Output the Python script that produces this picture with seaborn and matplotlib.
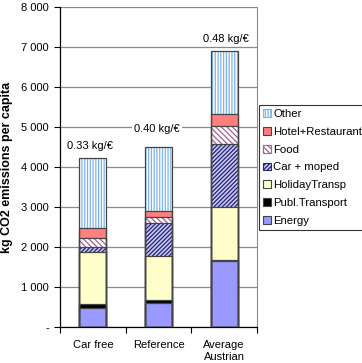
import numpy as np
import pandas as pd
import matplotlib
matplotlib.use("Agg")
import matplotlib.pyplot as plt
from matplotlib.patches import Patch
from matplotlib.ticker import FuncFormatter
import seaborn as sns

# data (kg CO2 per capita)
scenarios = ["Car free", "Reference", "Average\nAustrian"]
energy = [467, 600, 1642]
publ_transport = [100, 83, 41]
holiday_transp = [1316, 1100, 1317]
car_moped = [117, 817, 1583]
food = [233, 150, 434]
hotel_restaurant = [234, 150, 300]
other = [1750, 1600, 1575]
intensity_labels = ["0.33 kg/€", "0.40 kg/€", "0.48 kg/€"]

components = ["Energy", "Publ.Transport", "HolidayTransp", "Car + moped",
              "Food", "Hotel+Restaurant", "Other"]
values = [energy, publ_transport, holiday_transp, car_moped,
          food, hotel_restaurant, other]

# style per component: facecolor, hatch, hatch colour
styles = {
    "Energy": ("#9999ff", None, "#9999ff"),
    "Publ.Transport": ("#000000", None, "#000000"),
    "HolidayTransp": ("#ffffcc", None, "#ffffcc"),
    "Car + moped": ("#c8c8f0", "////////", "#222277"),
    "Food": ("#ffffff", "\\\\\\\\\\\\", "#a0609a"),
    "Hotel+Restaurant": ("#ff7f7f", None, "#ff7f7f"),
    "Other": ("#ffffff", "||||||", "#7fb4e6"),
}

plt.rcParams["font.family"] = ["Liberation Sans", "DejaVu Sans"]
plt.rcParams["hatch.linewidth"] = 0.9

fig = plt.figure(figsize=(3.62, 3.63), dpi=100)
ax = fig.add_axes([0.166, 0.099, 0.544, 0.882])

cum = np.cumsum(np.array(values), axis=0)
df = pd.DataFrame(cum.T, columns=components)
df["scenario"] = scenarios

# draw cumulative bars from top down so lower parts cover upper ones
for comp in components[::-1]:
    fc, hatch, hc = styles[comp]
    sns.barplot(data=df, x="scenario", y=comp, order=scenarios, ax=ax,
                color=fc, saturation=1, width=0.41, hatch=hatch,
                edgecolor=hc, linewidth=0, zorder=3)
for comp in components[::-1]:
    sns.barplot(data=df, x="scenario", y=comp, order=scenarios, ax=ax,
                fill=False, width=0.41, edgecolor="#444444",
                linewidth=0.9, zorder=4)

ax.set_xlim(-0.5, 2.5)
ax.set_ylim(0, 8000)
ax.set_yticks(np.arange(0, 8001, 1000))
ax.yaxis.set_major_formatter(FuncFormatter(
    lambda v, p: "-" if v == 0 else f"{int(v):,}".replace(",", " ")))
ax.grid(axis="y", color="#8a8a8a", linewidth=0.9, zorder=0)
ax.set_axisbelow(True)

ax.set_xticks(range(3))
ax.set_xticklabels(scenarios, fontsize=8, linespacing=1.3)
ax.set_xticks([-0.5, 0.5, 1.5, 2.5], minor=True)
ax.tick_params(axis="x", which="major", length=0, pad=9)
ax.tick_params(axis="x", which="minor", length=4, width=0.8, direction="out")
ax.tick_params(axis="y", length=4, width=0.8, direction="out", labelsize=8, pad=4)

ax.set_xlabel("")
ax.set_ylabel("kg CO2 emissions per capita", fontsize=9, fontweight="bold", labelpad=6)

for s in ["left", "bottom"]:
    ax.spines[s].set_color("black")
    ax.spines[s].set_linewidth(0.9)
ax.spines["top"].set_visible(False)
ax.spines["right"].set_color("#8a8a8a")

# intensity labels
label_pos = [(-0.05, 4515), (0.98, 4958), (2.03, 7208)]
for (lx, ly), t in zip(label_pos, intensity_labels):
    ax.text(lx, ly, t, ha="center", va="center", fontsize=8, zorder=5,
            bbox=dict(facecolor="white", edgecolor="none", pad=1.5))

handles = []
for comp in components[::-1]:
    fc, hatch, hc = styles[comp]
    handles.append(Patch(facecolor=fc, hatch=hatch,
                         edgecolor=hc if hatch else "#444444",
                         linewidth=0.8, label=comp))
leg = fig.legend(handles=handles, loc="upper left", bbox_to_anchor=(0.716, 0.71),
                 fontsize=8.2, frameon=True, fancybox=False, edgecolor="black",
                 handlelength=0.7, handleheight=0.7, handletextpad=0.2,
                 labelspacing=0.68, borderpad=0.35, borderaxespad=0)
leg.get_frame().set_linewidth(0.8)

fig.savefig("out.png", dpi=100)
